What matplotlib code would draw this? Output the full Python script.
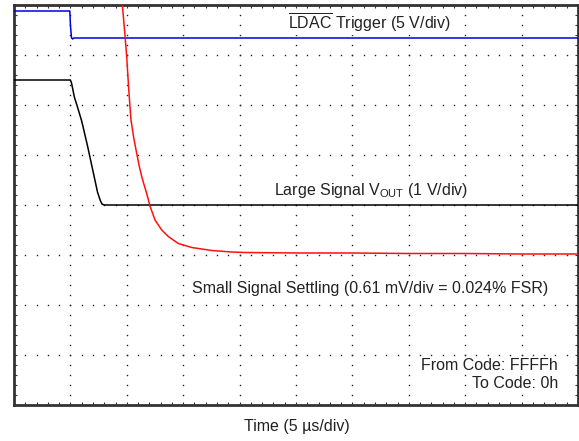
import numpy as np
import matplotlib
matplotlib.use("Agg")
import matplotlib.pyplot as plt

plt.rcParams["font.family"] = ["Liberation Sans", "DejaVu Sans"]
plt.rcParams["mathtext.fontset"] = "custom"
plt.rcParams["mathtext.rm"] = "Liberation Sans"
plt.rcParams["mathtext.it"] = "Liberation Sans"

# Scope traces, in screen divisions (x: 0-10, y: 0-8 from bottom)
ldac_t = [0.0, 0.99, 1.00, 1.02, 1.04, 1.06, 1.08, 10.0]
ldac_v = [7.88, 7.88, 7.60, 7.34, 7.32, 7.34, 7.34, 7.34]

vout_t = [0.0, 1.00, 1.02, 1.07, 1.12, 1.20, 1.30, 1.40, 1.48, 1.53, 1.56, 1.60, 10.0]
vout_v = [6.50, 6.50, 6.44, 6.16, 5.98, 5.68, 5.20, 4.68, 4.26, 4.09, 4.02, 4.00, 4.00]

settle_t = [1.897, 1.924, 1.960, 1.998, 2.035, 2.074, 2.125, 2.176, 2.220, 2.264,
            2.310, 2.353, 2.411, 2.500, 2.619, 2.736, 2.913, 3.151, 3.505, 3.860,
            4.096, 5.07, 6.00, 7.00, 8.00, 9.00, 10.0]
settle_v = [8.10, 7.96, 7.50, 6.97, 6.30, 5.70, 5.33, 5.03, 4.78, 4.57,
            4.39, 4.23, 3.98, 3.70, 3.50, 3.37, 3.23, 3.15, 3.09, 3.06,
            3.05, 3.04, 3.04, 3.03, 3.03, 3.02, 3.02]

fig = plt.figure(figsize=(5.79, 4.41), dpi=100)
ax = fig.add_axes([14 / 579, 1 - 405 / 441, 564 / 579, 400 / 441])
ax.set_xlim(0, 10)
ax.set_ylim(0, 8)

# dotted graticule: dots every 1/5 division on each major line
minor_x = np.arange(0, 10.001, 0.2)
minor_y = np.arange(0, 8.001, 0.2)
for gx in range(1, 10):
    ax.plot(np.full_like(minor_y, gx), minor_y, ls="none", marker="s",
            ms=1.0, color="#222222", mew=0, zorder=1)
for gy in range(1, 8):
    ax.plot(minor_x, np.full_like(minor_x, gy), ls="none", marker="s",
            ms=1.0, color="#222222", mew=0, zorder=1)

ax.plot(ldac_t, ldac_v, color="#0000e0", lw=1.1, zorder=4)
ax.plot(vout_t, vout_v, color="black", lw=1.1, zorder=4)
ax.plot(settle_t, settle_v, color="#ff1010", lw=1.1, zorder=4)

ax.set_xticks([])
ax.set_yticks([])
ax.set_xticks(minor_x, minor=True)
ax.set_yticks(minor_y, minor=True)
ax.tick_params(which="minor", direction="in", length=2.5, width=0.8,
               color="#333333", top=True, right=True, labelbottom=False, labelleft=False)
for s in ax.spines.values():
    s.set_linewidth(2)
    s.set_color("#333333")

fs = 11.5
tc = "#222222"
box = dict(facecolor="white", edgecolor="none", pad=0.5)
ax.text(6.31, 7.52, r"$\overline{\mathrm{LDAC}}$ Trigger (5 V/div)", ha="center",
        va="baseline", fontsize=fs, color=tc, bbox=box, zorder=3)
ax.text(6.33, 4.20, r"Large Signal V$_{\mathrm{OUT}}$ (1 V/div)", ha="center",
        va="baseline", fontsize=fs, color=tc, bbox=box, zorder=3)
ax.text(6.31, 2.24, "Small Signal Settling (0.61 mV/div = 0.024% FSR)", ha="center",
        va="baseline", fontsize=fs, color=tc, bbox=box, zorder=3)
ax.text(9.645, 0.70, "From Code: FFFFh", ha="right", va="baseline", fontsize=fs,
        color=tc, bbox=box, zorder=3)
ax.text(9.645, 0.34, "To Code: 0h", ha="right", va="baseline", fontsize=fs,
        color=tc, bbox=box, zorder=3)
fig.text(297 / 579, 1 - 431 / 441, "Time (5 µs/div)", ha="center", va="baseline",
         fontsize=fs, color=tc)

fig.savefig("out.png", dpi=100)
